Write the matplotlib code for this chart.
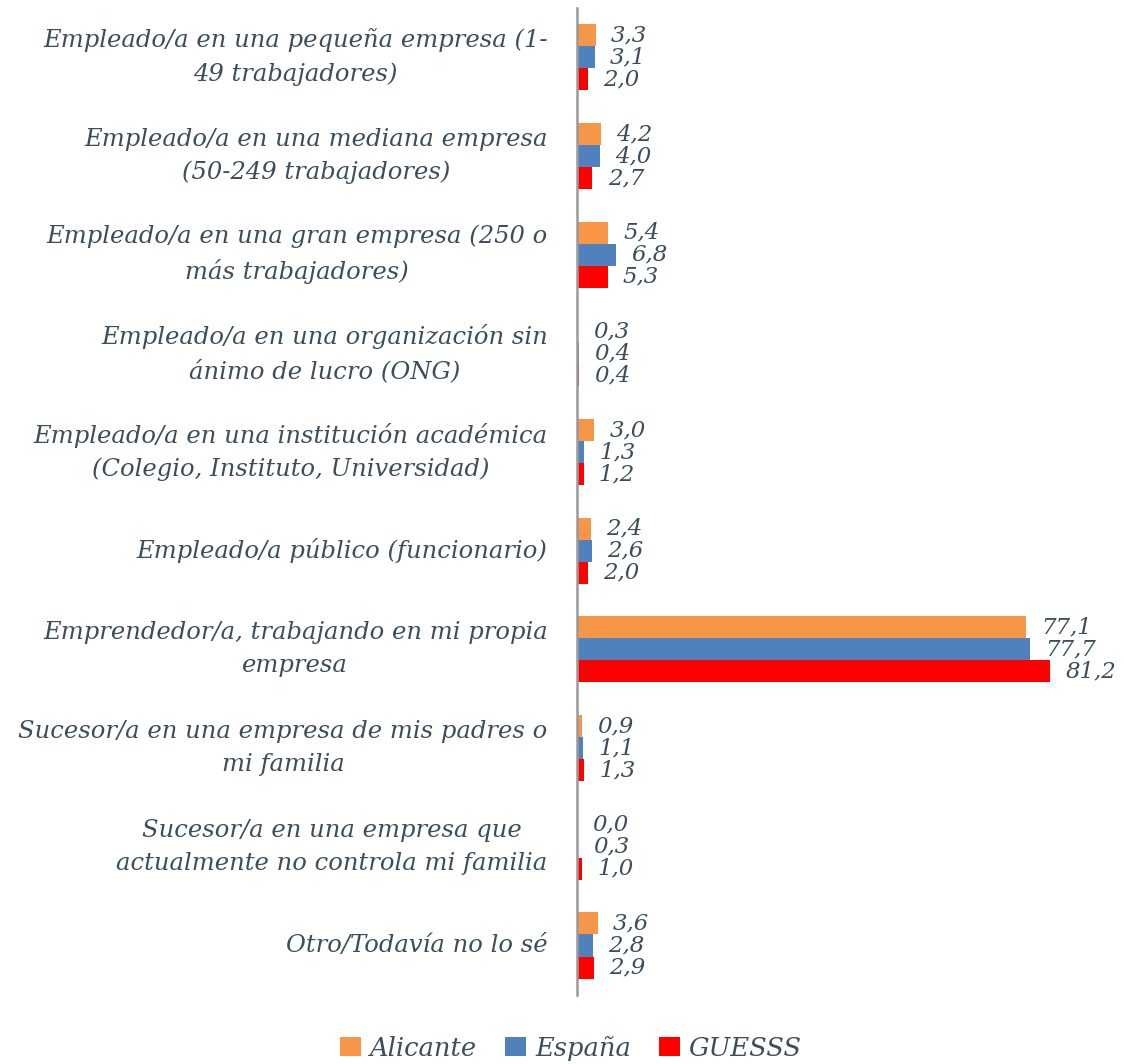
import matplotlib.pyplot as plt
import numpy as np

# categorías (de arriba abajo) y valores en %
categorias = [
    "Empleado/a en una pequeña empresa (1-\n49 trabajadores)",
    "Empleado/a en una mediana empresa\n(50-249 trabajadores)",
    "Empleado/a en una gran empresa (250 o\nmás trabajadores)",
    "Empleado/a en una organización sin\nánimo de lucro (ONG)",
    "Empleado/a en una institución académica\n(Colegio, Instituto, Universidad)",
    "Empleado/a público (funcionario)",
    "Emprendedor/a, trabajando en mi propia\nempresa",
    "Sucesor/a en una empresa de mis padres o\nmi familia",
    "Sucesor/a en una empresa que\nactualmente no controla mi familia",
    "Otro/Todavía no lo sé",
]
alicante = [3.3, 4.2, 5.4, 0.3, 3.0, 2.4, 77.1, 0.9, 0.0, 3.6]
espana = [3.1, 4.0, 6.8, 0.4, 1.3, 2.6, 77.7, 1.1, 0.3, 2.8]
guesss = [2.0, 2.7, 5.3, 0.4, 1.2, 2.0, 81.2, 1.3, 1.0, 2.9]

series = ["Alicante", "España", "GUESSS"]
colores = ["#F79646", "#4F81BD", "#FF0000"]
txt_color = "#3B4E5A"
fuente = "DejaVu Serif"

fig = plt.figure(figsize=(11.24, 10.64), dpi=100)
ax = fig.add_axes([0.513, 0.065, 0.467, 0.9275])

y = np.arange(len(categorias))
h = 0.223
for i, (vals, col, nom) in enumerate(zip([alicante, espana, guesss], colores, series)):
    pos = y + (i - 1) * h
    ax.barh(pos, vals, height=h, color=col, label=nom)
    for p, v in zip(pos, vals):
        ax.annotate(f"{v:.1f}".replace(".", ","), (v, p), xytext=(11, 0),
                    textcoords="offset points", ha="left", va="center",
                    fontsize=16.5, style="italic", family=fuente, color=txt_color)

ax.set_xlim(0, 90)
ax.set_ylim(len(categorias) - 0.5, -0.5)
ax.set_xticks([])
ax.set_yticks([])
for s in ["top", "right", "bottom"]:
    ax.spines[s].set_visible(False)
ax.spines["left"].set_color("#999999")
ax.spines["left"].set_linewidth(1.8)

for yy, cat in zip(y, categorias):
    ax.text(-0.055, yy, cat, transform=ax.get_yaxis_transform(), ha="right",
            va="center", multialignment="center", fontsize=17.5, style="italic",
            family=fuente, color=txt_color, linespacing=1.55)

leg = fig.legend(loc="center", bbox_to_anchor=(0.508, 0.015), ncol=3, frameon=False,
                 handlelength=0.8, handleheight=0.8, handletextpad=0.35, columnspacing=1.1,
                 prop={"family": fuente, "style": "italic", "size": 18.5})
for t in leg.get_texts():
    t.set_color(txt_color)

plt.savefig("out.png", dpi=100, facecolor="white")
